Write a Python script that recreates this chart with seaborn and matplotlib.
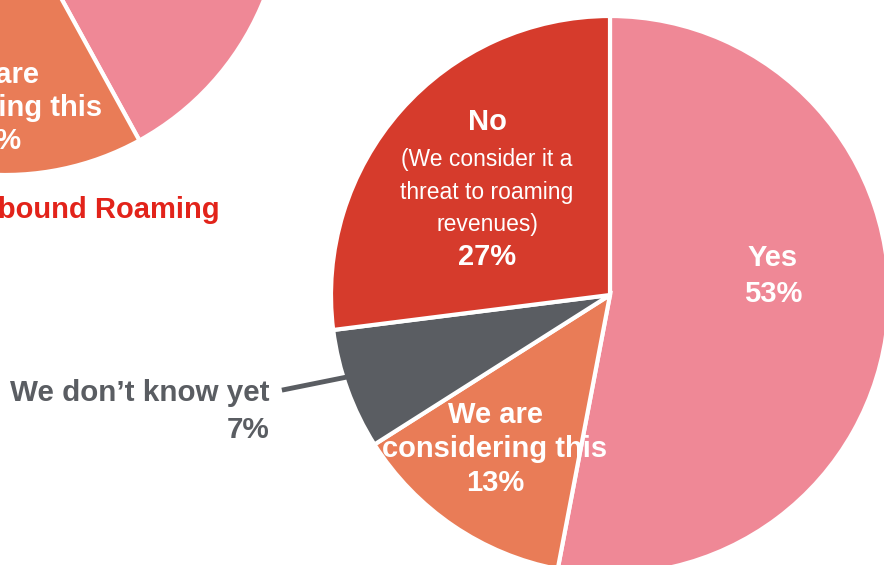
import matplotlib
matplotlib.use("Agg")
import matplotlib.pyplot as plt
import seaborn as sns

sns.set_theme(style="white")
plt.rcParams['font.family'] = ['Liberation Sans', 'DejaVu Sans']

# Data
categories = ["Yes", "We are considering this", "We don't know yet", "No"]
outbound_values = [53, 13, 7, 27]
inbound_values = [42, 19, 8, 31]
colors = ["#EF8896", "#E97C57", "#5A5D62", "#D63B2C"]
inbound_title = "Inbound Roaming"

W, H = 884, 565
R = 279
fig = plt.figure(figsize=(W / 100, H / 100), dpi=100)


def make_ax(cx, cy):
    # cx, cy in image pixels (y from top)
    ax = fig.add_axes([(cx - R) / W, (H - cy - R) / H, 2 * R / W, 2 * R / H])
    return ax


wp = dict(edgecolor="white", linewidth=3)

# Left (inbound) pie, mostly off-canvas
axL = make_ax(5, -104)
axL.pie(inbound_values, colors=colors, startangle=90, counterclock=False,
        radius=1, wedgeprops=wp)
axL.set_xlim(-1, 1); axL.set_ylim(-1, 1); axL.axis("off")
bold = dict(fontsize=21, fontweight="bold", color="white", ha="center", va="center")
axL.text(-0.050, -0.642, "We are", **bold)
axL.text(-0.055, -0.760, "considering this", **bold)
axL.text(-0.045, -0.878, f"{inbound_values[1]}%", **bold)
axL.text(0.771, -1.125, inbound_title, fontsize=21, fontweight="bold",
         color="#E2231A", ha="right", va="center", clip_on=False)

# Main (outbound) pie
ax = make_ax(610, 295)
ax.pie(outbound_values, colors=colors, startangle=90, counterclock=False,
       radius=1, wedgeprops=wp)
ax.set_xlim(-1, 1); ax.set_ylim(-1, 1); ax.axis("off")

# Yes
ax.text(0.584, 0.133, categories[0], **bold)
ax.text(0.584, 0.004, f"{outbound_values[0]}%", **bold)
# Considering
ax.text(-0.412, -0.430, "We are", **bold)
ax.text(-0.412, -0.552, "considering this", **bold)
ax.text(-0.412, -0.674, f"{outbound_values[1]}%", **bold)
# No
ax.text(-0.441, 0.620, categories[3], **bold)
reg = dict(fontsize=16.5, color="white", ha="center", va="center")
ax.text(-0.441, 0.484, "(We consider it a", **reg)
ax.text(-0.441, 0.369, "threat to roaming", **reg)
ax.text(-0.441, 0.251, "revenues)", **reg)
ax.text(-0.441, 0.136, f"{outbound_values[3]}%", **bold)
# Don't know (outside)
gray = colors[2]
ax.plot([-1.176, -0.943], [-0.341, -0.294], color=gray, lw=3.5,
        clip_on=False, solid_capstyle="butt")
ax.text(-1.219, -0.351, "We don\u2019t know yet", fontsize=21.3, fontweight="bold",
        color=gray, ha="right", va="center", clip_on=False)
ax.text(-1.219, -0.484, f"{outbound_values[2]}%", fontsize=21.3, fontweight="bold",
        color=gray, ha="right", va="center", clip_on=False)

fig.savefig("out.png", dpi=100, facecolor="white")
